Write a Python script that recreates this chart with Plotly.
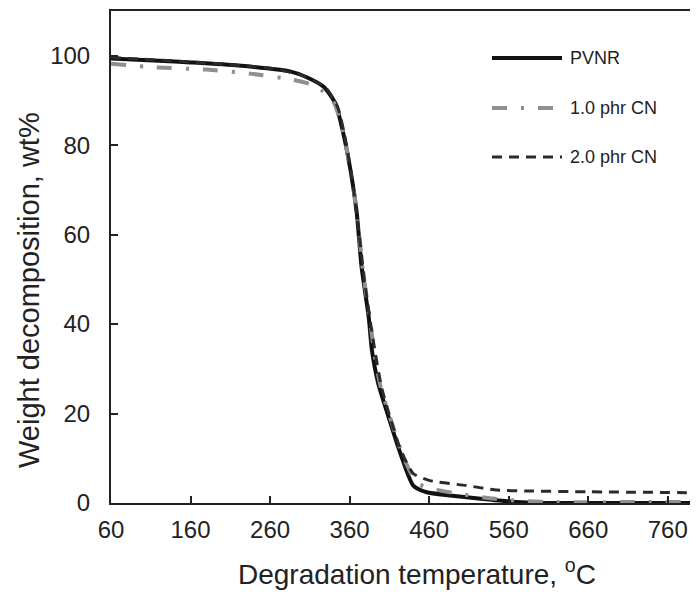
import plotly.graph_objects as go

# ---- data ----
pvnr_t = [60, 120, 160, 220, 285, 306, 327, 342, 352, 361, 369, 375, 384, 388, 396, 409, 424, 440, 457, 486, 528, 570, 600, 700, 798]
pvnr_w = [99.4, 98.9, 98.5, 97.8, 96.5, 95.2, 93.1, 89.4, 82.7, 74.5, 64.8, 52.8, 41.6, 34.2, 26.7, 19.2, 11.0, 3.9, 2.4, 1.7, 0.9, 0.2, 0.0, 0.0, 0.0]

cn1_t = [60, 117, 180, 235, 289, 319, 340, 352, 362, 370, 377, 386, 391, 399, 412, 427, 444, 460, 500, 540, 580, 620, 700, 798]
cn1_w = [98.2, 97.4, 96.9, 96.0, 94.6, 93.1, 89.6, 82.8, 73.5, 63.5, 51.5, 40.5, 33.5, 26.0, 18.5, 10.5, 4.6, 3.3, 2.0, 1.0, 0.4, 0.2, 0.2, 0.2]

cn2_t = [60, 160, 260, 300, 330, 345, 355, 365, 372, 380, 390, 400, 412, 424, 440, 461, 507, 545, 580, 660, 798]
cn2_w = [99.6, 98.6, 97.2, 95.6, 92.8, 88.5, 81.0, 70.0, 60.0, 48.0, 36.0, 26.0, 18.5, 12.0, 6.6, 5.0, 3.9, 2.9, 2.7, 2.5, 2.3]

series_names = ["PVNR", "1.0 phr CN", "2.0 phr CN"]
x_ticks = [60, 160, 260, 360, 460, 560, 660, 760, 860]
y_ticks = [0, 20, 40, 60, 80, 100]

FONT = "Liberation Sans, Arial, sans-serif"
styles = [
    dict(color="#111111", width=4, dash="solid"),
    dict(color="#8f8f8f", width=4, dash="15px,14px,3px,14px"),
    dict(color="#2b2b2b", width=3, dash="10px,7px"),
]

# page offset (body margin 8px): figure spans page px 8..698 x 8..592
OX, OY = 8, 8
W, H = 690, 584
L, T, B = 111 - OX, 11 - OY, 592 - 503
PW, PH = W - L, H - T - B


def px(xp):
    return (xp - 111) / PW


def py(yp):
    return (503 - yp) / PH


fig = go.Figure()
for name, t, w, st in zip(series_names, [pvnr_t, cn1_t, cn2_t], [pvnr_w, cn1_w, cn2_w], styles):
    fig.add_trace(go.Scatter(x=t, y=w, mode="lines", name=name, showlegend=False,
                             line=dict(shape="spline", smoothing=0.6, **st)))

# manual legend (long sample lines like the reference)
leg_y = [58, 108, 157]
leg_x1 = [562, 553, 562]
for name, st, yy, x1 in zip(series_names, styles, leg_y, leg_x1):
    fig.add_shape(type="line", xref="paper", yref="paper", x0=px(492), x1=px(x1), y0=py(yy), y1=py(yy),
                  line=dict(color=st["color"], width=st["width"], dash=st["dash"]))
    fig.add_annotation(xref="paper", yref="paper", x=px(568), y=py(yy), text=name, showarrow=False,
                       xanchor="left", yanchor="middle", font=dict(family=FONT, size=18, color="#222"))

# axis titles
fig.add_annotation(xref="paper", yref="paper", x=px(417), y=py(572),
                   text="Degradation temperature, <sup>o</sup>C", showarrow=False,
                   xanchor="center", yanchor="middle", font=dict(family=FONT, size=28, color="#222"))
fig.add_annotation(xref="paper", yref="paper", x=px(29), y=py(290),
                   text="Weight decomposition, wt%", showarrow=False, textangle=-90,
                   xanchor="center", yanchor="middle", font=dict(family=FONT, size=29, color="#222"))

axis_common = dict(showgrid=False, zeroline=False, showline=True, linecolor="#222", linewidth=2,
                   ticks="inside", ticklen=7, tickwidth=1.5, tickcolor="#222",
                   tickfont=dict(family=FONT, size=24, color="#222"))
fig.update_xaxes(range=[60, 798], tickvals=x_ticks, mirror=True, ticklabelstandoff=4, **axis_common)
fig.update_yaxes(range=[0, 110], tickvals=y_ticks, ticklabelstandoff=14, **axis_common)

fig.update_layout(width=W, height=H, margin=dict(l=L, r=0, t=T, b=B),
                  plot_bgcolor="white", paper_bgcolor="white")
fig.write_html("out.html")
